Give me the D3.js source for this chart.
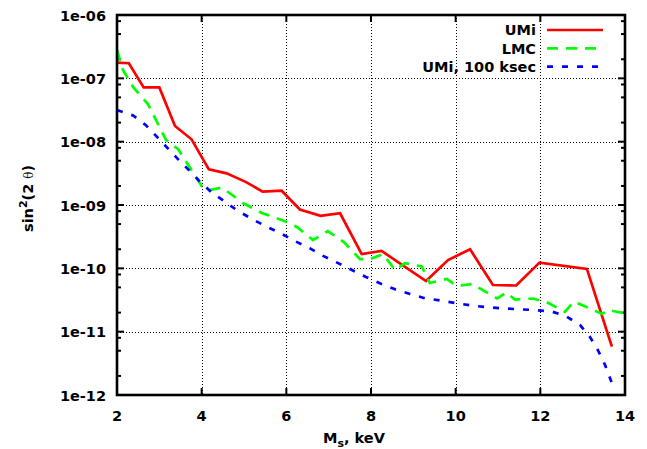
<!DOCTYPE html>
<html>
<head>
<meta charset="utf-8">
<script src="https://cdn.jsdelivr.net/npm/d3@7"></script>
<style>
  body { margin: 0; background: #fff; }
  svg text { font-family: "DejaVu Sans", sans-serif; font-weight: bold; fill: #000; }
</style>
</head>
<body>
<svg id="chart" width="647" height="449"></svg>
<script>
// UMi (solid red)
const umiX = [2.0, 2.28, 2.63, 3.0, 3.37, 3.76, 4.17, 4.59, 5.05, 5.44, 5.89, 6.32, 6.81, 7.27, 7.78, 8.25, 9.30, 9.82, 10.34, 10.88, 11.43, 11.98, 13.10, 13.69];
const umiY = [1.77e-7, 1.73e-7, 7.2e-8, 7.2e-8, 1.77e-8, 1.09e-8, 3.66e-9, 3.16e-9, 2.3e-9, 1.63e-9, 1.68e-9, 8.5e-10, 6.75e-10, 7.4e-10, 1.68e-10, 1.88e-10, 6.3e-11, 1.35e-10, 2.0e-10, 5.45e-11, 5.36e-11, 1.23e-10, 9.8e-11, 5.8e-12];

// LMC (green dashed)
const lmcX = [2.0, 2.14, 2.38, 2.73, 3.16, 3.44, 4.0, 4.22, 4.48, 4.97, 5.42, 5.92, 6.25, 6.63, 6.98, 7.36, 7.74, 7.98, 8.28, 8.57, 8.80, 9.2, 9.39, 9.79, 10.03, 10.39, 10.98, 11.2, 11.4, 11.83, 12.18, 12.58, 12.79, 13.17, 13.46, 13.6, 14.0];
const lmcY = [2.8e-7, 1.36e-7, 7.3e-8, 3.93e-8, 1.06e-8, 7.66e-9, 2.0e-9, 1.73e-9, 1.89e-9, 1.08e-9, 7.5e-10, 5.7e-10, 4.5e-10, 2.8e-10, 3.88e-10, 2.6e-10, 1.4e-10, 1.4e-10, 1.68e-10, 9.4e-11, 1.21e-10, 1.07e-10, 5.86e-11, 6.8e-11, 5.26e-11, 5.66e-11, 3.34e-11, 4.15e-11, 3.22e-11, 3.34e-11, 2.86e-11, 2.06e-11, 2.97e-11, 2.34e-11, 1.9e-11, 2.2e-11, 1.94e-11];

// UMi, 100 ksec (blue dotted)
const ksecX = [2.0, 2.38, 2.69, 2.94, 3.2, 3.44, 3.72, 3.96, 4.24, 4.55, 4.83, 5.19, 5.54, 5.9, 6.2, 6.56, 6.87, 7.2, 7.55, 7.88, 8.21, 8.57, 8.92, 9.28, 9.68, 10.03, 10.41, 10.76, 11.12, 11.52, 11.87, 12.28, 12.63, 12.94, 13.17, 13.36, 13.53, 13.69];
const ksecY = [3.16e-8, 2.59e-8, 1.8e-8, 1.2e-8, 7.85e-9, 5.3e-9, 3.44e-9, 2.33e-9, 1.57e-9, 1.13e-9, 8.3e-10, 6.0e-10, 4.54e-10, 3.48e-10, 2.7e-10, 2.07e-10, 1.57e-10, 1.23e-10, 9.4e-11, 7.3e-11, 5.8e-11, 4.66e-11, 3.93e-11, 3.36e-11, 3.08e-11, 2.8e-11, 2.57e-11, 2.42e-11, 2.34e-11, 2.25e-11, 2.2e-11, 2.07e-11, 1.72e-11, 1.27e-11, 8.3e-12, 5.1e-12, 2.97e-12, 1.55e-12];

const xTicks = [2, 4, 6, 8, 10, 12, 14];
const yTicks = [1e-12, 1e-11, 1e-10, 1e-9, 1e-8, 1e-7, 1e-6];
const yTickLabels = ["1e-12", "1e-11", "1e-10", "1e-09", "1e-08", "1e-07", "1e-06"];
const minorMult = [2, 5, 8];

const series = [
  { name: "UMi", xs: umiX, ys: umiY, color: "#ff0000", dash: null },
  { name: "LMC", xs: lmcX, ys: lmcY, color: "#00ff00", dash: "11,8" },
  { name: "UMi, 100 ksec", xs: ksecX, ys: ksecY, color: "#0000ff", dash: "6,9" }
];

const svg = d3.select("#chart");
const pL = 117, pR = 625, pT = 15, pB = 395;

const x = d3.scaleLinear().domain([2, 14]).range([pL, pR]);
const y = d3.scaleLog().domain([1e-12, 1e-6]).range([pB, pT]);

// grid
const grid = svg.append("g").attr("stroke", "#000").attr("stroke-width", 1)
  .attr("stroke-dasharray", "1,2").attr("shape-rendering", "crispEdges");
xTicks.slice(1, -1).forEach(t => {
  grid.append("line").attr("x1", Math.round(x(t)) + 0.5).attr("x2", Math.round(x(t)) + 0.5)
    .attr("y1", pT).attr("y2", pB);
});
yTicks.slice(1, -1).forEach(t => {
  grid.append("line").attr("y1", Math.round(y(t)) + 0.5).attr("y2", Math.round(y(t)) + 0.5)
    .attr("x1", pL).attr("x2", pR);
});

// ticks
const ticks = svg.append("g").attr("stroke", "#000").attr("stroke-width", 2);
yTicks.forEach(t => {
  ticks.append("line").attr("x1", pL).attr("x2", pL + 7).attr("y1", y(t)).attr("y2", y(t));
  ticks.append("line").attr("x1", pR).attr("x2", pR - 7).attr("y1", y(t)).attr("y2", y(t));
});
yTicks.slice(0, -1).forEach(t => {
  minorMult.forEach(m => {
    const v = t * m;
    ticks.append("line").attr("x1", pL).attr("x2", pL + 4).attr("y1", y(v)).attr("y2", y(v));
    ticks.append("line").attr("x1", pR).attr("x2", pR - 4).attr("y1", y(v)).attr("y2", y(v));
  });
});
xTicks.forEach(t => {
  ticks.append("line").attr("x1", x(t)).attr("x2", x(t)).attr("y1", pB).attr("y2", pB - 7);
  ticks.append("line").attr("x1", x(t)).attr("x2", x(t)).attr("y1", pT).attr("y2", pT + 7);
});

// tick labels
yTicks.forEach((t, i) => {
  svg.append("text").attr("x", 106).attr("y", y(t) + 5.5)
    .attr("text-anchor", "end").style("font-size", "14.5px").text(yTickLabels[i]);
});
xTicks.forEach(t => {
  svg.append("text").attr("x", x(t)).attr("y", 421)
    .attr("text-anchor", "middle").style("font-size", "14.5px").text(t);
});

// curves
svg.append("clipPath").attr("id", "clip").append("rect")
  .attr("x", pL).attr("y", pT).attr("width", pR - pL).attr("height", pB - pT);

const line = d3.line().x(d => x(d[0])).y(d => y(d[1]));
series.forEach(s => {
  const pts = s.xs.map((v, i) => [v, s.ys[i]]);
  svg.append("path").datum(pts)
    .attr("clip-path", "url(#clip)")
    .attr("fill", "none")
    .attr("stroke", s.color)
    .attr("stroke-width", 2.7)
    .attr("stroke-dasharray", s.dash)
    .attr("d", line);
});

// border
svg.append("rect").attr("x", pL).attr("y", pT).attr("width", pR - pL).attr("height", pB - pT)
  .attr("fill", "none").attr("stroke", "#000").attr("stroke-width", 2.6);

// legend
const legY = [30, 48.3, 66.7];
series.forEach((s, i) => {
  svg.append("text").attr("x", 536).attr("y", legY[i] + 5.3)
    .attr("text-anchor", "end").style("font-size", "14.5px").text(s.name);
  svg.append("line").attr("x1", 547).attr("x2", 603).attr("y1", legY[i]).attr("y2", legY[i])
    .attr("stroke", s.color).attr("stroke-width", 2.7).attr("stroke-dasharray", s.dash);
});

// axis titles
const xt = svg.append("text").attr("x", 323).attr("y", 443).style("font-size", "14.5px");
xt.append("tspan").text("M");
xt.append("tspan").attr("dy", 4).style("font-size", "11px").text("s");
xt.append("tspan").attr("dy", -4).text(", keV");

const yt = svg.append("text").attr("transform", "translate(33,232) rotate(-90)")
  .attr("text-anchor", "start").style("font-size", "14.5px");
yt.append("tspan").text("sin");
yt.append("tspan").attr("dy", -6).style("font-size", "11px").text("2");
yt.append("tspan").attr("dy", 6).text("(2 ");
yt.append("tspan").style("font-weight", "normal").style("font-size", "12px")
  .style("font-family", "'DejaVu Serif', serif").text("θ");
yt.append("tspan").text(")");
</script>
</body>
</html>
